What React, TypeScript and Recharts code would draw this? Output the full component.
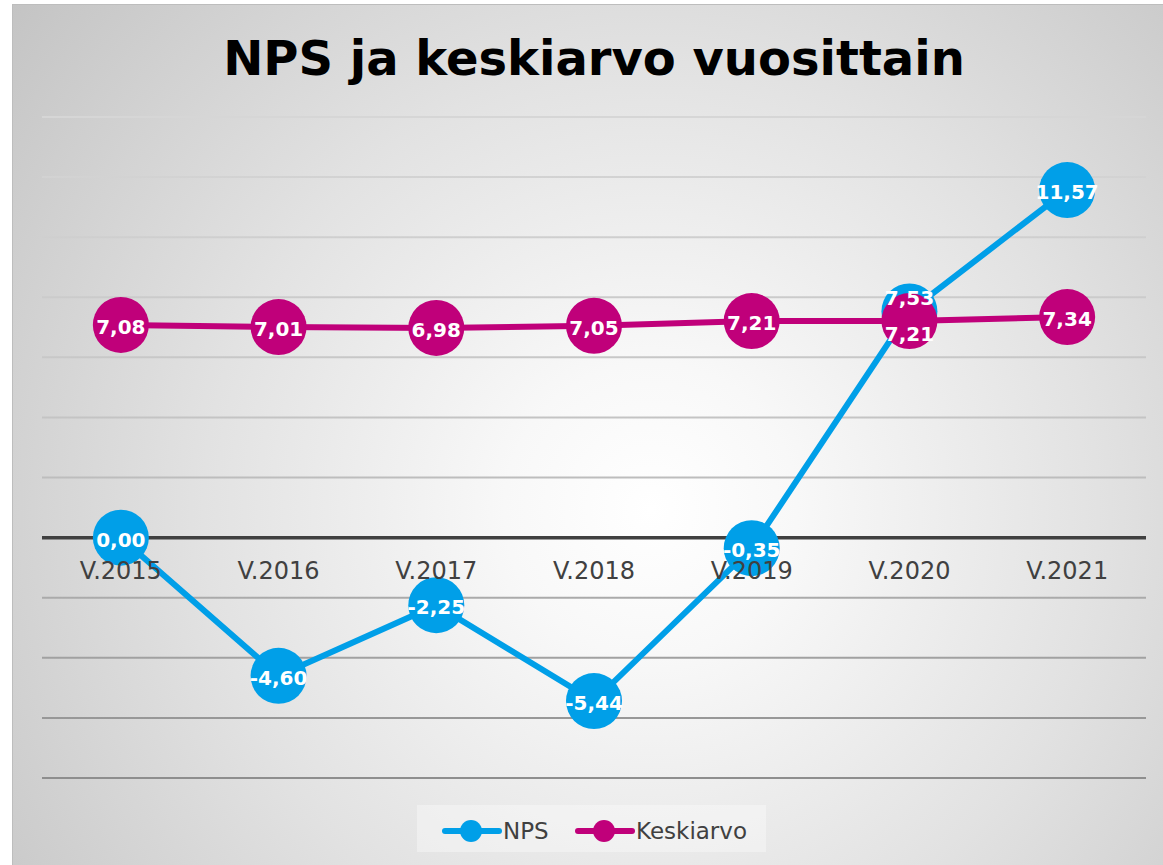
import React from "react";
import { LineChart, Line, XAxis, YAxis, CartesianGrid, ReferenceLine, LabelList } from "recharts";

const categories = ["V.2015", "V.2016", "V.2017", "V.2018", "V.2019", "V.2020", "V.2021"];
const npsValues = [0.0, -4.6, -2.25, -5.44, -0.35, 7.53, 11.57];
const keskiarvoValues = [7.08, 7.01, 6.98, 7.05, 7.21, 7.21, 7.34];
const yTicks = [-8, -6, -4, -2, 0, 2, 4, 6, 8, 10, 12, 14];
const title = "NPS ja keskiarvo vuosittain";

const data = categories.map((c, i) => ({ name: c, nps: npsValues[i], kesk: keskiarvoValues[i] }));

const BLUE = "#009FE8";
const MAGENTA = "#C0007A";
const FONT = "'DejaVu Sans', Verdana, sans-serif";

const fmt = (v: number) => v.toFixed(2).replace(".", ",");

const makeLabel = (shiftAt: number, shift: number) => (props: any) => {
  const { x, y, value, index } = props;
  const dy = index === shiftAt ? shift : 0;
  return (
    <text
      x={x}
      y={y + 9 + dy}
      textAnchor="middle"
      fill="#ffffff"
      fontFamily={FONT}
      fontWeight="bold"
      fontSize={20}
    >
      {fmt(Number(value))}
    </text>
  );
};

const XTick = (props: any) => {
  const { x, y, payload } = props;
  return (
    <text x={x} y={y - 207} textAnchor="middle" fill="#404040" fontFamily={FONT} fontSize={24}>
      {payload.value}
    </text>
  );
};

export default function App() {
  return (
    <div style={{ position: "absolute", left: 0, top: 0, width: 1163, height: 865, overflow: "hidden", fontFamily: FONT }}>
      <div
        style={{
          position: "absolute",
          left: 12,
          top: 4,
          width: 1160,
          height: 870,
          borderTop: "1.5px solid #bdbdbd",
          borderLeft: "1.5px solid #bdbdbd",
          background:
            "radial-gradient(circle farthest-corner at 55% 58%, #ffffff 0%, #f8f8f8 18%, #e2e2e2 55%, #c4c4c4 100%)",
        }}
      />
      <div
        style={{
          position: "absolute",
          left: 12,
          top: 34,
          width: 1164,
          textAlign: "center",
          fontSize: 48,
          lineHeight: "48px",
          fontWeight: "bold",
          color: "#000000",
          fontFamily: FONT,
        }}
      >
        {title}
      </div>
      <div style={{ position: "absolute", left: 12, top: 4 }}>
        <LineChart width={1151} height={861} data={data} margin={{ top: 113, right: 17, left: 30, bottom: 57 }}>
          <defs>
            <linearGradient id="gridGrad" gradientUnits="userSpaceOnUse" x1="0" y1="113" x2="0" y2="774">
              <stop offset="0%" stopColor="#d6d6d6" />
              <stop offset="50%" stopColor="#c2c2c2" />
              <stop offset="100%" stopColor="#8e8e8e" />
            </linearGradient>
          </defs>
          <CartesianGrid vertical={false} stroke="url(#gridGrad)" strokeWidth={2} />
          <XAxis
            dataKey="name"
            scale="band"
            height={30}
            axisLine={false}
            tickLine={false}
            tick={XTick}
            interval={0}
          />
          <YAxis hide width={0} domain={[-8, 14]} ticks={yTicks} type="number" />
          <ReferenceLine y={0} stroke="#404040" strokeWidth={3.5} />
          <Line
            dataKey="nps"
            stroke={BLUE}
            strokeWidth={6}
            dot={{ r: 28, fill: BLUE, stroke: "none" }}
            activeDot={false}
            isAnimationActive={false}
          />
          <Line
            dataKey="kesk"
            stroke={MAGENTA}
            strokeWidth={6}
            dot={{ r: 28, fill: MAGENTA, stroke: "none" }}
            activeDot={false}
            isAnimationActive={false}
          >
            <LabelList dataKey="kesk" content={makeLabel(5, 11)} />
          </Line>
          <Line
            dataKey="nps"
            stroke="none"
            strokeWidth={0}
            dot={false}
            activeDot={false}
            legendType="none"
            isAnimationActive={false}
          >
            <LabelList dataKey="nps" content={makeLabel(5, -15)} />
          </Line>
        </LineChart>
      </div>
      <div
        style={{
          position: "absolute",
          left: 417,
          top: 805,
          width: 349,
          height: 47,
          background: "rgba(255,255,255,0.35)",
        }}
      >
        <svg width={349} height={47} style={{ display: "block" }}>
          <line x1={28} y1={26} x2={82} y2={26} stroke={BLUE} strokeWidth={6} strokeLinecap="round" />
          <circle cx={54} cy={26} r={11} fill={BLUE} />
          <text x={86} y={34} fill="#404040" fontFamily={FONT} fontSize={23}>NPS</text>
          <line x1={161} y1={26} x2={215} y2={26} stroke={MAGENTA} strokeWidth={6} strokeLinecap="round" />
          <circle cx={187} cy={26} r={11} fill={MAGENTA} />
          <text x={219} y={34} fill="#404040" fontFamily={FONT} fontSize={23}>Keskiarvo</text>
        </svg>
      </div>
    </div>
  );
}
